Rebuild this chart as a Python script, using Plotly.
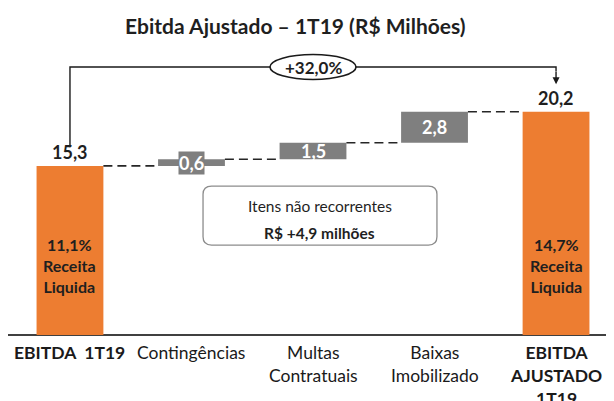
import plotly.graph_objects as go

# ---- data ----
categories = ["EBITDA\u00a0\u00a01T19", "Contingências", "Multas<br>Contratuais",
              "Baixas<br>Imobilizado", "EBITDA<br>AJUSTADO<br>1T19"]
values = [15.3, 0.6, 1.5, 2.8, 20.2]
kinds = ["total", "delta", "delta", "delta", "total"]
value_labels = ["15,3", "0,6", "1,5", "2,8", "20,2"]
margin_labels = ["11,1%<br>Receita<br>Liquida", None, None, None, "14,7%<br>Receita<br>Liquida"]
growth_label = "+32,0%"
note_lines = ["Itens não recorrentes", "<b>R$ +4,9 milhões</b>"]
title = "Ebitda Ajustado – 1T19 (R$ Milhões)"

ORANGE = "#ED7D31"
GRAY = "#7F7F7F"
DARK = "#1f1f1f"
FONT = "Lato"

# compute bases / tops
bases, tops = [], []
level = 0.0
for v, k in zip(values, kinds):
    if k == "total":
        bases.append(0.0)
        level = v
    else:
        bases.append(level)
        level = level + v
    tops.append(level)

xs = list(range(len(values)))
bar_w = 0.55
colors = [ORANGE if k == "total" else GRAY for k in kinds]

fig = go.Figure()
fig.add_trace(go.Bar(x=xs, y=values, base=bases, width=bar_w,
                     marker=dict(color=colors, line=dict(width=0)),
                     hoverinfo="skip", showlegend=False))

# dashed connectors
for i in range(len(values) - 1):
    fig.add_trace(go.Scatter(x=[xs[i] + bar_w / 2, xs[i + 1] - bar_w / 2],
                             y=[tops[i], tops[i]], mode="lines",
                             line=dict(color="#262626", width=1.6, dash="9px,5px"),
                             hoverinfo="skip", showlegend=False))

ann = []
shapes = []
# value labels
for i, (v, k, lab) in enumerate(zip(values, kinds, value_labels)):
    if k == "total":
        ann.append(dict(x=xs[i], y=tops[i], text=f"<b>{lab}</b>", showarrow=False,
                        yanchor="bottom", yshift=1,
                        font=dict(family=FONT, size=18, color=DARK)))
    else:
        ann.append(dict(x=xs[i], y=bases[i] + v / 2, text=f"<b>{lab}</b>", showarrow=False,
                        yanchor="middle", bgcolor=GRAY if v < 1 else None, borderpad=0,
                        font=dict(family=FONT, size=18, color="white")))
# margin labels inside orange bars
for i, m in enumerate(margin_labels):
    if m:
        ann.append(dict(x=xs[i], y=6.3, text=f"<b>{m}</b>", showarrow=False,
                        yanchor="middle", font=dict(family=FONT, size=16, color=DARK)))
# category labels
for i, c in enumerate(categories):
    bold = kinds[i] == "total"
    ann.append(dict(x=xs[i], y=0, yref="y", text=f"<b>{c}</b>" if bold else c,
                    showarrow=False, yanchor="top", yshift=-5,
                    font=dict(family=FONT, size=17.5, color="#1a1a1a")))

# bracket
top_y = 24.25
shapes.append(dict(type="path",
                   path=f"M {xs[0]},{tops[0] + 1.7} L {xs[0]},{top_y} L {xs[-1]},{top_y} L {xs[-1]},{top_y - 0.4}",
                   line=dict(color="#1a1a1a", width=1.4)))
ann.append(dict(x=xs[-1], y=tops[-1] + 2.5, ax=xs[-1], ay=top_y - 0.3, axref="x", ayref="y",
                text="", showarrow=True, arrowhead=2, arrowsize=1, arrowwidth=1.4,
                arrowcolor="#1a1a1a"))
ex = 2.0
shapes.append(dict(type="circle", x0=ex - 0.354, x1=ex + 0.354, y0=top_y - 1.13, y1=top_y + 1.13,
                   fillcolor="white", line=dict(color="#1a1a1a", width=1.6), layer="above"))
ann.append(dict(x=ex, y=top_y, text=f"<b>{growth_label}</b>", showarrow=False,
                font=dict(family=FONT, size=17, color=DARK)))

# rounded note box
bx0, bx1, by0, by1 = 1.095, 3.02, 8.14, 13.48
rx, ry = 0.07, 0.75
path = (f"M {bx0+rx},{by0} L {bx1-rx},{by0} Q {bx1},{by0} {bx1},{by0+ry} "
        f"L {bx1},{by1-ry} Q {bx1},{by1} {bx1-rx},{by1} L {bx0+rx},{by1} "
        f"Q {bx0},{by1} {bx0},{by1-ry} L {bx0},{by0+ry} Q {bx0},{by0} {bx0+rx},{by0} Z")
shapes.append(dict(type="path", path=path, line=dict(color="#8c8c8c", width=1.3),
                   fillcolor="white"))
for line_text, ly in zip(note_lines, [11.67, 9.23]):
    ann.append(dict(x=(bx0 + bx1) / 2, y=ly, text=line_text,
                    showarrow=False, font=dict(family=FONT, size=15.5, color=DARK)))

# title
ann.append(dict(x=287.5 / 606, y=1, xref="paper", yref="paper", yshift=-17,
                text=f"<b>{title}</b>", showarrow=False, yanchor="middle",
                font=dict(family=FONT, size=21, color=DARK)))

# page body has an 8px margin, so the figure is 8px smaller than the window
fig.update_layout(
    width=606, height=393,
    margin=dict(l=0, r=0, t=0, b=66),
    paper_bgcolor="white", plot_bgcolor="white",
    annotations=ann, shapes=shapes,
    xaxis=dict(range=[-0.510, 4.477], showticklabels=False, showgrid=False, zeroline=False,
               showline=False, fixedrange=True),
    yaxis=dict(range=[0, 29.59], showticklabels=False, showgrid=False, zeroline=True,
               zerolinecolor="#404040", zerolinewidth=1.8, fixedrange=True),
    bargap=0.45,
)

fig.write_html("out.html")
